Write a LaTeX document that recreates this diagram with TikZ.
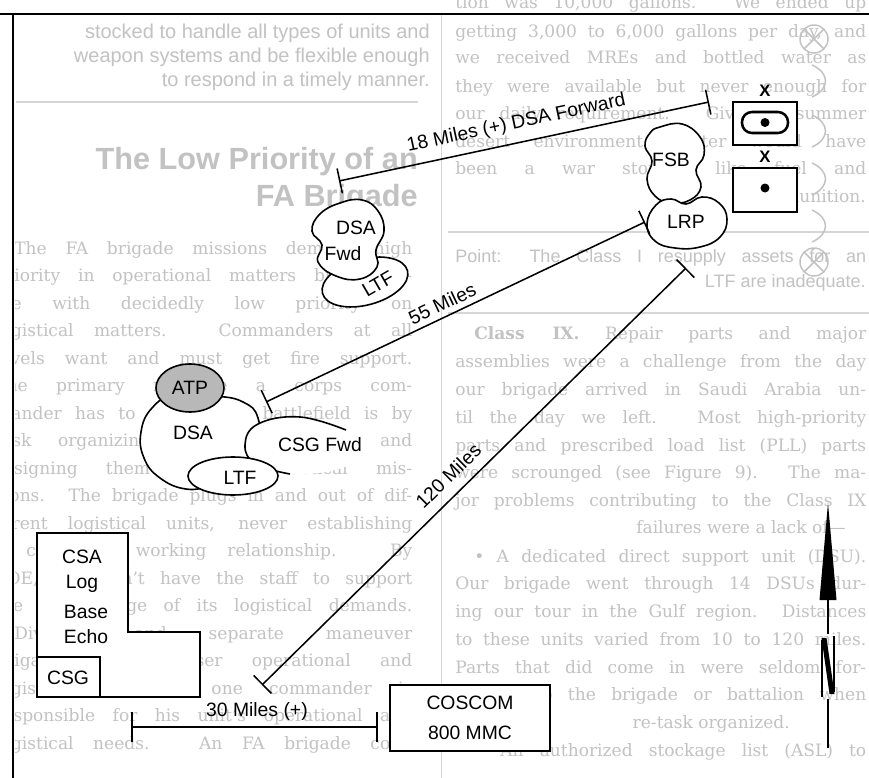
\documentclass[tikz,border=0pt]{standalone}
\usepackage{fontspec}
\setmainfont{DejaVu Serif}
\setsansfont{Liberation Sans}
\usetikzlibrary{arrows.meta}
\definecolor{bgtext}{gray}{0.76}
\definecolor{bgrule}{gray}{0.84}
\definecolor{atpgray}{gray}{0.72}
\newcount\bgcnt
\newcommand\bgS[4]{\global\advance\bgcnt by 1\relax\node[bgn] (bgt\the\bgcnt) at (#1,#2) {\makebox[#3][s]{#4}};}
\newcommand\bgR[3]{\global\advance\bgcnt by 1\relax\node[bgn, anchor=base east] (bgt\the\bgcnt) at (#1,#2) {#3};}
\begin{document}
\begin{tikzpicture}[x=0.75pt,y=-0.75pt,
  bgn/.style={text=bgtext, anchor=base west, inner sep=0pt, font=\fontsize{12.8}{16}\selectfont},
  bgq/.style={text=bgtext, anchor=base east, inner sep=0pt, font=\sffamily\fontsize{15}{18}\selectfont},
  bgh/.style={text=bgtext, anchor=base east, inner sep=0pt, font=\sffamily\bfseries\fontsize{23}{27}\selectfont},
  lbl/.style={font=\sffamily\fontsize{14.5}{17}\selectfont, inner sep=0pt},
  mlbl/.style={font=\sffamily\fontsize{14.5}{16}\selectfont, inner sep=0pt},
  ln/.style={line width=1.15pt},
  tbar/.style={ln, arrows={Bar[width=19pt]-Bar[width=19pt]}},
  tbarw/.style={ln, arrows={Bar[width=22pt]-Bar[width=22pt]}},
  outl/.style={line width=1.2pt},
  blob/.style={outl, fill=white},
  boxl/.style={line width=1.5pt, fill=white},
  faint/.style={bgtext, line width=1.1pt},
]
\useasboundingbox (0,0) rectangle (869,778);
\fill[white] (0,0) rectangle (869,778);

% ---------- faint show-through page ----------
\begin{scope}
\clip (15,0) rectangle (869,778);
% middle column: pull quote and heading
\node[bgq] (pq1) at (430,38) {stocked to handle all types of units and};
\node[bgq] (pq2) at (430,62) {weapon systems and be flexible enough};
\node[bgq] (pq3) at (430,86) {to respond in a timely manner.};
\draw[bgrule, line width=0.8pt] (16,102) -- (418,102);
\node[bgh] (hd1) at (418,169) {The Low Priority of an};
\node[bgh] (hd2) at (418,206) {FA Brigade};
% middle column body
\bgS{14}{254}{298.5pt}{The FA brigade missions demand high}
\bgS{-5}{281.5}{312.75pt}{priority in operational matters but strug-}
\bgS{-5}{309}{312.75pt}{gle with decidedly low priority on}
\bgS{-5}{336.5}{312.75pt}{logistical matters. Commanders at all}
\bgS{-5}{364}{312.75pt}{levels want and must get fire support.}
\bgS{-5}{391.5}{312.75pt}{The primary measure a corps com-}
\bgS{-5}{419}{312.75pt}{mander has to weight the battlefield is by}
\bgS{-5}{446.5}{312.75pt}{task organizing his FA brigades and}
\bgS{-5}{474}{312.75pt}{assigning them standard tactical mis-}
\bgS{-5}{501.5}{312.75pt}{sions. The brigade plugs in and out of dif-}
\bgS{-5}{529}{312.75pt}{ferent logistical units, never establishing}
\bgS{-5}{556.5}{312.75pt}{a consistent working relationship. By}
\bgS{-5}{584}{312.75pt}{TOE, it doesn't have the staff to support}
\bgS{-5}{611.5}{312.75pt}{the wide range of its logistical demands.}
\bgS{14}{639}{298.5pt}{Divisions and separate maneuver}
\bgS{-5}{666.5}{312.75pt}{brigades have closer operational and}
\bgS{-5}{694}{312.75pt}{logistical systems; one commander is}
\bgS{-5}{721.5}{312.75pt}{responsible for his unit's operational and}
\bgS{-5}{749}{312.75pt}{logistical needs. An FA brigade com-}
% column divider
\draw[bgrule, line width=0.7pt] (441,14) -- (441,778);
% right column
\bgS{455}{8}{308.25pt}{tion was 10,000 gallons. We ended up}
\bgS{455}{37}{308.25pt}{getting 3,000 to 6,000 gallons per day, and}
\bgS{455}{64}{308.25pt}{we received MREs and bottled water as}
\bgS{455}{92}{308.25pt}{they were available but never enough for}
\bgS{455}{119}{308.25pt}{our daily requirement. Given a summer}
\bgS{455}{147}{308.25pt}{desert environment, water would have}
\bgS{455}{174}{308.25pt}{been a war stopper like fuel and}
\bgR{866}{202}{ammunition.}
\draw[bgrule, line width=0.8pt] (448,232) -- (869,232);
\bgS{455}{262}{308.25pt}{\sffamily\fontsize{13.5}{16}\selectfont Point: The Class I resupply assets for an}
\bgR{866}{287}{\sffamily\fontsize{13.5}{16}\selectfont LTF are inadequate.}
\draw[bgrule, line width=0.8pt] (448,313) -- (869,313);
\bgS{474}{339}{294pt}{\textbf{Class IX.} Repair parts and major}
\bgS{455}{367}{308.25pt}{assemblies were a challenge from the day}
\bgS{455}{395}{308.25pt}{our brigade arrived in Saudi Arabia un-}
\bgS{455}{423}{308.25pt}{til the day we left. Most high-priority}
\bgS{455}{451}{308.25pt}{parts and prescribed load list (PLL) parts}
\bgS{455}{478}{308.25pt}{were scrounged (see Figure 9). The ma-}
\bgS{455}{506}{308.25pt}{jor problems contributing to the Class IX}
\bgR{846}{533}{failures were a lack of—}
\bgS{474}{562}{294pt}{• A dedicated direct support unit (DSU).}
\bgS{455}{589}{308.25pt}{Our brigade went through 14 DSUs dur-}
\bgS{455}{617}{308.25pt}{ing our tour in the Gulf region. Distances}
\bgS{455}{645}{308.25pt}{to these units varied from 10 to 120 miles.}
\bgS{455}{673}{308.25pt}{Parts that did come in were seldom for-}
\bgS{455}{700}{308.25pt}{warded to the brigade or battalion when}
\bgR{790}{728}{re-task organized.}
\bgS{474}{756}{294pt}{• An authorized stockage list (ASL) to}
% faint marks at right edge
\draw[faint] (814,39) circle[radius=14];
\draw[faint] (804,29) -- (824,49) (824,29) -- (804,49);
\draw[faint] (814,262) circle[radius=14];
\draw[faint] (804,252) -- (824,272) (824,252) -- (804,272);
\foreach \yy in {65,115,163,210}
  \draw[faint] (812,\yy) .. controls (830,\yy+8) and (830,\yy+24) .. (812,\yy+32);
\end{scope}

% ---------- frame ----------
\draw[line width=2.2pt] (0,14) -- (869,14);
\draw[line width=2pt] (13,14) -- (13,778);

% ---------- upper right: FSB, LRP, unit symbols ----------
\draw[blob] plot[smooth cycle, tension=0.75] coordinates {(660,127) (682,124) (700,137) (704,155) (696,170) (701,187) (690,200) (671,203) (655,196) (647,179) (652,161) (645,146) (650,133)};
\node[lbl] (fsb) at (671,160) {FSB};
\draw[blob] plot[smooth cycle, tension=0.75] coordinates {(656,205) (671,199) (686,204) (702,197) (719,203) (727,219) (720,237) (700,247) (675,248) (655,241) (647,224)};
\node[lbl] (lrp) at (686,222) {LRP};

\node[draw, line width=2pt, fill=white, minimum width=48pt, minimum height=32.25pt, inner sep=0pt] (u1) at (765,123.5) {};
\node[draw, line width=1.9pt, rounded corners=7.5pt, minimum width=34.5pt, minimum height=15.75pt, inner sep=0pt] (u1o) at (765,122.5) {};
\fill (765,122.5) circle[radius=4.5];
\node[font=\sffamily\bfseries\fontsize{12.5}{12}\selectfont, inner sep=0pt] (x1) at (765,91) {X};
\node[draw, line width=2pt, fill=white, minimum width=48pt, minimum height=33pt, inner sep=0pt] (u2) at (765,190) {};
\fill (765,188) circle[radius=4.5];
\node[font=\sffamily\bfseries\fontsize{12.5}{12}\selectfont, inner sep=0pt] (x2) at (765,157) {X};

% ---------- DSA Fwd / LTF (upper) ----------
\draw[blob, rotate around={15:(365,282)}] (365,282) ellipse [x radius=44, y radius=23];
\node[lbl, rotate=30] (ltf1) at (378,284) {LTF};
\draw[blob] plot[smooth cycle, tension=0.75] coordinates {(320,214) (340,203) (362,200) (378,211) (384,231) (376,250) (377,267) (360,279) (336,276) (318,262) (322,245) (312,231)};
\node[lbl] (dsaf) at (356,228) {DSA};
\node[lbl] (fwd) at (343,254) {Fwd};

% ---------- DSA cluster (lower) ----------
\draw[blob] plot[smooth cycle, tension=0.75] coordinates {(175,395) (215,396) (243,402) (258,418) (258,450) (240,470) (210,485) (186,489) (160,478) (144,458) (141,432) (152,408)};
\fill[white] plot[smooth cycle, tension=0.7] coordinates {(346,430) (300,417) (258,424) (245,445) (256,464) (290,474) (342,468) (356,450)};
\draw[outl] plot[smooth, tension=0.7] coordinates {(346,430) (300,417) (258,424) (245,445) (256,464) (290,474)};
\draw[blob] (233,476) ellipse [x radius=45, y radius=19];
\draw[outl, fill=atpgray] (190,388) ellipse [x radius=34, y radius=24];
\node[lbl] (atp) at (190,388) {ATP};
\node[lbl] (dsa) at (193,433) {DSA};
\node[lbl] (csgf) at (320,445) {CSG Fwd};
\node[lbl] (ltf2) at (240,478) {LTF};

% ---------- CSA Log Base Echo ----------
\draw[boxl] (37,533) -- (128,533) -- (128,632) -- (200,632) -- (200,697) -- (37,697) -- cycle;
\draw[boxl] (37,657) rectangle (100,697);
\node[lbl] (csa) at (82,557) {CSA};
\node[lbl] (log) at (82,584) {Log};
\node[lbl] (base) at (86,612) {Base};
\node[lbl] (echo) at (86,637) {Echo};
\node[lbl] (csg) at (68,678) {CSG};

% ---------- COSCOM ----------
\node[draw, boxl, minimum width=120pt, minimum height=50pt, align=center, font=\sffamily\fontsize{14.5}{23}\selectfont, inner sep=0pt] (coscom) at (470,718) {COSCOM\\800 MMC};

% ---------- distance lines ----------
\coordinate (e18a) at (339,181);
\coordinate (e18b) at (709,102);
\draw[tbar] (e18a) -- node[mlbl, sloped, above=7pt, pos=0.49] (l18) {18 Miles (+) DSA Forward} (e18b);

\coordinate (e55a) at (266,402);
\coordinate (e55b) at (645,222);
\draw[tbar] (e55a) -- node[mlbl, sloped, above=4pt, pos=0.48] (l55) {55 Miles} (e55b);

\coordinate (e120a) at (262,685);
\coordinate (e120b) at (686,268);
\draw[tbar] (e120a) -- node[mlbl, sloped, above=8pt, pos=0.47] (l120) {120 Miles} (e120b);

\coordinate (e30a) at (131,727);
\coordinate (e30b) at (378,727);
\draw[tbarw] (e30a) -- node[lbl, above=4.5pt, pos=0.51] (l30) {30 Miles (+)} (e30b);

% ---------- north arrow ----------
\fill (828,503) -- (836.5,600) -- (819.5,600) -- cycle;
\draw[line width=1.3pt] (828,598) -- (828,634);
\draw[line width=1.3pt] (822,640) -- (822,697);
\draw[line width=1.3pt] (834,636) -- (834,692);
\fill (821.5,638) -- (826.5,638) -- (834.5,694) -- (829.5,694) -- cycle;
\draw[line width=1.3pt] (828,699) -- (828,748);
\end{tikzpicture}
\end{document}
